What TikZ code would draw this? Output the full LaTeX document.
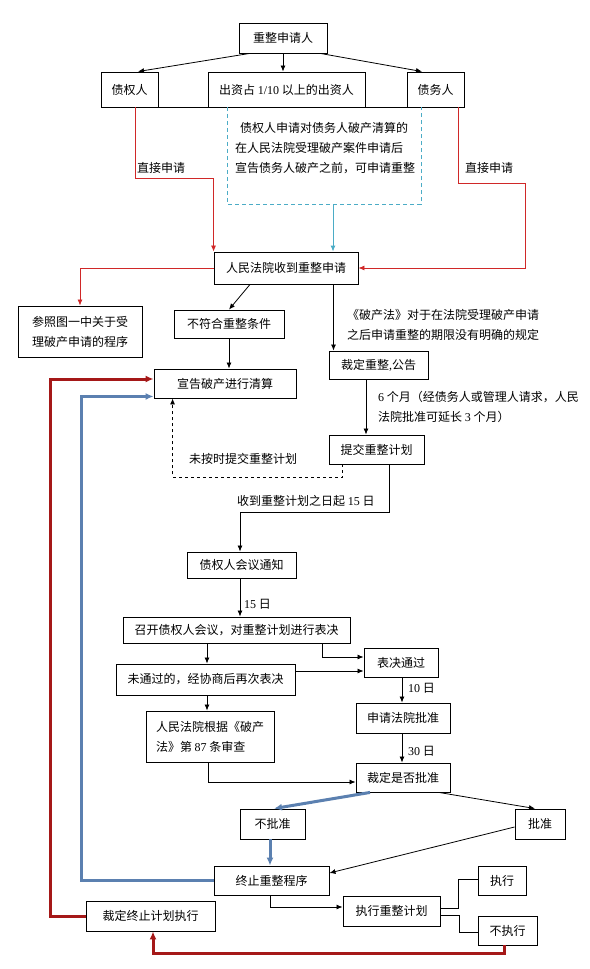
\documentclass[tikz,border=0pt]{standalone}
\usepackage{fontspec}
\setmainfont{Noto Sans CJK SC}
\newfontfamily\lat{Liberation Serif}
\usetikzlibrary{arrows.meta,calc}
\definecolor{lred}{HTML}{D02828}
\definecolor{dred}{HTML}{A51818}
\definecolor{sblue}{HTML}{5B80B0}
\definecolor{cyanl}{HTML}{4BACC6}
\begin{document}
\begin{tikzpicture}[x=1pt,y=-1pt,
  box/.style={draw,line width=0.9pt,inner sep=0pt,font=\fontsize{12}{20}\selectfont,align=center},
  lbl/.style={inner sep=0pt,font=\fontsize{12}{20}\selectfont,align=left},
  ar/.style={line width=0.8pt,-{Latex[length=6pt,width=5pt]}},
  ln/.style={line width=0.8pt},
  rar/.style={line width=0.8pt,draw=lred,-{Latex[length=6pt,width=5pt]},color=lred},
  tred/.style={line width=3pt,draw=dred,-{Latex[length=8pt,width=7pt]},color=dred},
  tblue/.style={line width=3pt,draw=sblue,-{Latex[length=8pt,width=7pt]},color=sblue},
  car/.style={line width=0.9pt,draw=cyanl,-{Latex[length=6pt,width=5pt]},color=cyanl}
]
\useasboundingbox (0,0) rectangle (589,969);
\fill[white] (0,0) rectangle (589,969);

% boxes
\node[box,minimum width=88pt,minimum height=30pt] (top) at (283,38) {重整申请人};
\node[box,minimum width=57pt,minimum height=35pt] (zq) at (129.5,89.5) {债权人};
\node[box,minimum width=157pt,minimum height=35pt] (cz) at (286.5,89.5) {出资占 {\lat 1/10} 以上的出资人};
\node[box,minimum width=57pt,minimum height=35pt] (zw) at (435.5,89.5) {债务人};
\node[inner sep=0pt,minimum width=193pt,minimum height=97pt] (dbx) at (324.5,155.5) {};
\node[lbl,align=left] (dbt) at (325,148) {\hspace{5pt}债权人申请对债务人破产清算的\\在人民法院受理破产案件申请后\\ 宣告债务人破产之前，可申请重整};
\node[box,minimum width=144pt,minimum height=32pt] (rm) at (286,268) {人民法院收到重整申请};
\node[box,minimum width=124pt,minimum height=51pt] (ck) at (80,331.5) {参照图一中关于受\\理破产申请的程序};
\node[box,minimum width=110pt,minimum height=28pt] (bf) at (229,324) {不符合重整条件};
\node[box,minimum width=99pt,minimum height=28pt] (cd) at (378.5,365) {裁定重整{\lat ,}公告};
\node[box,minimum width=142pt,minimum height=29pt] (xg) at (225,383.5) {宣告破产进行清算};
\node[box,minimum width=95pt,minimum height=29pt] (tj) at (376.5,449.5) {提交重整计划};
\node[box,minimum width=109pt,minimum height=26pt] (hy) at (241.5,565) {债权人会议通知};
\node[box,minimum width=227pt,minimum height=26pt] (zk) at (236.5,630) {召开债权人会议，对重整计划进行表决};
\node[box,minimum width=74pt,minimum height=29pt] (bj) at (401,662.5) {表决通过};
\node[box,minimum width=179pt,minimum height=31pt] (wt) at (205.5,679.5) {未通过的，经协商后再次表决};
\node[box,align=left,minimum width=128pt,minimum height=51pt] (rf) at (210,736.5) {人民法院根据《破产\\法》第 {\lat 87} 条审查};
\node[box,minimum width=94pt,minimum height=30pt] (sq) at (403,718) {申请法院批准};
\node[box,minimum width=94pt,minimum height=29pt] (cs) at (403,777.5) {裁定是否批准};
\node[box,minimum width=65pt,minimum height=30pt] (bp) at (272.5,824) {不批准};
\node[box,minimum width=50pt,minimum height=30pt] (pz) at (540,824) {批准};
\node[box,minimum width=115pt,minimum height=29pt] (zz) at (271.5,880.5) {终止重整程序};
\node[box,minimum width=129pt,minimum height=30pt] (cj) at (150.5,916) {裁定终止计划执行};
\node[box,minimum width=97pt,minimum height=30pt] (zx) at (391.5,911) {执行重整计划};
\node[box,minimum width=48pt,minimum height=29pt] (ex) at (502,880.5) {执行};
\node[box,minimum width=59pt,minimum height=29pt] (bz) at (507.5,930.5) {不执行};

% top arrows
\draw[ar] ([xshift=11pt]top.south west) -- ([xshift=8.5pt]zq.north);
\draw[ar] (top.south) -- (top.south |- cz.north);
\draw[ar] ([xshift=-7pt]top.south east) -- ([xshift=-13.5pt]zw.north);
\draw[ln] (zq.south east) -- (cz.south west);
\draw[ln] (cz.south east) -- (zw.south west);

% dashed box
\draw[cyanl,line width=0.9pt,dash pattern=on 4pt off 3pt] (dbx.north west) -- (dbx.south west) -- (dbx.south east) -- (dbx.north east);
\draw[car] ([xshift=8.5pt]dbx.south) -- ([xshift=8.5pt]dbx.south |- rm.north);

% direct applications
\draw[rar] ([xshift=5.5pt]zq.south) -- ++(0,71) -| (rm.north west);
\node[lbl,anchor=west] (l1) at (137,168) {直接申请};
\draw[rar] ([xshift=22.5pt]zw.south) -- ++(0,76) -- ++(67,0) |- (rm.east);
\node[lbl,anchor=west] (l2) at (465,168) {直接申请};

% court outputs
\draw[rar] (rm.west) -| (ck.north);
\draw[ar] ([xshift=-36pt]rm.south) -- (bf.north);
\draw[ar] (bf.south) -- (bf.south |- xg.north);
\draw[ar] ([xshift=47.5pt]rm.south) -- ([xshift=47.5pt]rm.south |- cd.north);
\node[lbl,anchor=west] (l3) at (347,325) {《破产法》对于在法院受理破产申请\\之后申请重整的期限没有明确的规定};

\draw[ar] ([xshift=-12.5pt]cd.south) -- ([xshift=-12.5pt]cd.south |- tj.north);
\node[lbl,anchor=west] (l4) at (378,407) {{\lat 6} 个月（经债务人或管理人请求，人民\\法院批准可延长 {\lat 3} 个月）};

\draw[ln,dashed,-{Latex[length=6pt,width=5pt]}] ([xshift=14pt]tj.south west) -- ++(0,13) -| ([xshift=19pt]xg.south west);
\node[lbl] (l5) at (243,459) {未按时提交重整计划};

\draw[ar] ([xshift=-35pt]tj.south east) -- ++(0,48) -| ([xshift=-1.5pt]hy.north);
\node[lbl,anchor=west] (l6) at (237,501) {收到重整计划之日起 {\lat 15} 日};

\draw[ar] ([xshift=-1.5pt]hy.south) -- ([xshift=-1.5pt]hy.south |- zk.north);
\node[lbl,anchor=west] (l7) at (244,604) {{\lat 15} 日};

\draw[ar] ([xshift=1.5pt]wt.north |- zk.south) -- ([xshift=1.5pt]wt.north);
\draw[ar] ([xshift=-28pt]zk.south east) |- ([yshift=5.5pt]bj.west);
\draw[ar] ([yshift=8.5pt]wt.east) -- ([yshift=8.5pt]wt.east -| bj.west);
\draw[ar] ([xshift=1.5pt]wt.south) -- ([xshift=1.5pt]wt.south |- rf.north);

\draw[ar] ([xshift=1pt]bj.south) -- ([xshift=1pt]bj.south |- sq.north);
\node[lbl,anchor=west] (l8) at (408,688) {{\lat 10} 日};
\draw[ar] ([xshift=-1pt]sq.south) -- ([xshift=-1pt]sq.south |- cs.north);
\node[lbl,anchor=west] (l9) at (408,751) {{\lat 30} 日};
\draw[ar] ([xshift=-2pt]rf.south) |- ([yshift=-4.5pt]cs.west);

% decision
\draw[tblue] ([xshift=-33pt]cs.south) -- ([xshift=1.5pt]bp.north);
\draw[ar] ([xshift=36pt]cs.south) -- ([xshift=-5pt]pz.north);
\draw[tblue] ([xshift=-2.5pt]bp.south) -- ([xshift=-1.5pt]zz.north);
\draw[ar] ([yshift=-3pt]pz.west) -- ([yshift=7.5pt]zz.east);

% feedback loops
\draw[tblue] (zz.west) -- ++(-132,0) |- ([yshift=2pt]xg.south west);
\draw[tred] (cj.west) -- ++(-35,0) |- ([yshift=4.5pt]xg.west);

\draw[ar] ([xshift=-1.5pt]zz.south) |- ([yshift=4pt]zx.west);
\draw[ln] ([yshift=3pt]zx.east) -- ++(18,0) |- ([yshift=1.5pt]ex.west);
\draw[ln] ([yshift=-4pt]zx.east) -- ++(19,0) |- ([yshift=-1.5pt]bz.west);
\draw[tred] ([xshift=-3.5pt]bz.south) -- ++(0,8) -| ([xshift=2.5pt]cj.south);
\end{tikzpicture}
\end{document}
